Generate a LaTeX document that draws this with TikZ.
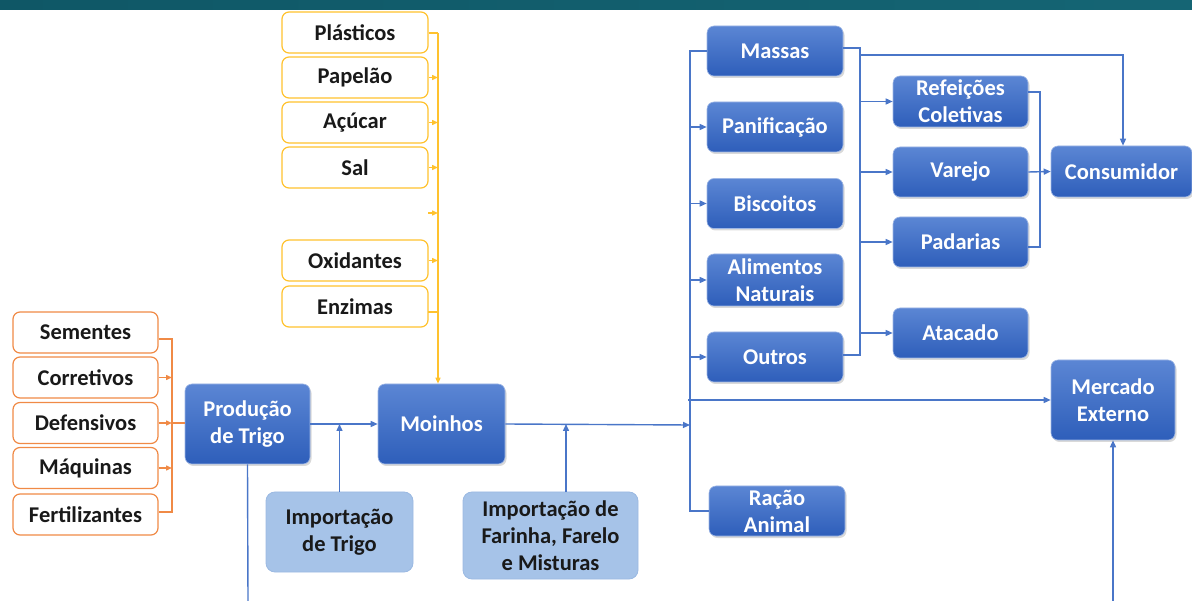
\documentclass[tikz,border=0pt]{standalone}
\usepackage{fontspec}
\setmainfont{Carlito}
\usetikzlibrary{arrows.meta,shadows,calc}
\definecolor{blueT}{HTML}{5B86D4}
\definecolor{blueB}{HTML}{2E5EBA}
\definecolor{lineB}{HTML}{4A76C8}
\definecolor{lightB}{HTML}{A6C3E8}
\definecolor{lightBd}{HTML}{9BB9E2}
\definecolor{orng}{HTML}{F08A46}
\definecolor{yell}{HTML}{FFC22E}
\definecolor{bandA}{HTML}{0F5766}
\definecolor{bandB}{HTML}{156574}
\begin{document}
\begin{tikzpicture}[x=1pt,y=-1pt,
 every node/.style={font=\fontsize{22.5}{27}\selectfont\bfseries, inner sep=0pt, align=center},
 bbox/.style={rounded corners=7pt, top color=blueT, bottom color=blueB, draw=blueT!60!white, line width=0.6pt, text=white, drop shadow={opacity=0.3,shadow xshift=1.5pt,shadow yshift=-2pt}},
 lbox/.style={rounded corners=9pt, fill=lightB, draw=lightBd, line width=0.8pt, text=black!90},
 obox/.style={rounded corners=7pt, fill=white, draw=orng, line width=1.2pt, minimum width=145pt, minimum height=41pt, text=black!90},
 ybox/.style={rounded corners=7pt, fill=white, draw=yell, line width=1.2pt, minimum width=146pt, minimum height=41pt, text=black!90},
 bl/.style={draw=lineB, line width=1.4pt},
 ba/.style={bl, -{Triangle[length=7pt,width=6pt]}},
 ol/.style={draw=orng, line width=1.4pt},
 oa/.style={ol, -{Triangle[length=6pt,width=5pt]}},
 yl/.style={draw=yell, line width=1.4pt},
 ya/.style={yl, -{Triangle[length=6pt,width=5pt]}},
]
\useasboundingbox (0,0) rectangle (1192,601);
\fill[left color=bandA, right color=bandB] (0,0) rectangle (1192,10);

% orange inputs
\node[obox] (sementes) at (85.5,332.5) {Sementes};
\node[obox] (corretivos) at (85.5,377.5) {Corretivos};
\node[obox] (defensivos) at (85.5,423) {Defensivos};
\node[obox] (maquinas) at (85.5,468) {Máquinas};
\node[obox] (fertilizantes) at (85.5,514.5) {Fertilizantes};

% yellow inputs
\node[ybox] (plasticos) at (355,32.5) {Plásticos};
\node[ybox] (papelao) at (355,77.5) {Papelão};
\node[ybox] (acucar) at (355,122.5) {Açúcar};
\node[ybox] (sal) at (355,167.5) {Sal};
\node[ybox] (oxidantes) at (355,260.5) {Oxidantes};
\node[ybox] (enzimas) at (355,306.5) {Enzimas};

% main chain
\node[bbox, minimum width=125pt, minimum height=80pt] (producao) at (247.5,424) {Produção\\de Trigo};
\node[bbox, minimum width=127pt, minimum height=80pt] (moinhos) at (441.5,424) {Moinhos};
\node[lbox, minimum width=147pt, minimum height=80pt] (imptrigo) at (339.5,532) {Importação\\de Trigo};
\node[lbox, minimum width=175pt, minimum height=87pt] (impfarinha) at (550.5,535.5) {Importação de\\Farinha, Farelo\\e Misturas};

% products
\node[bbox, minimum width=136pt, minimum height=50pt] (massas) at (775,51) {Massas};
\node[bbox, minimum width=136pt, minimum height=50pt] (panificacao) at (775,127) {Panificação};
\node[bbox, minimum width=136pt, minimum height=50pt] (biscoitos) at (775,203.5) {Biscoitos};
\node[bbox, minimum width=136pt, minimum height=52pt] (alimentos) at (775,280) {Alimentos\\Naturais};
\node[bbox, minimum width=136pt, minimum height=50pt] (outros) at (775,357) {Outros};
\node[bbox, minimum width=136pt, minimum height=50pt] (racao) at (777,511) {Ração\\Animal};

% channels
\node[bbox, minimum width=135pt, minimum height=51pt] (refeicoes) at (960.5,101.5) {Refeições\\Coletivas};
\node[bbox, minimum width=135pt, minimum height=50pt] (varejo) at (960.5,172) {Varejo};
\node[bbox, minimum width=135pt, minimum height=50pt] (padarias) at (960.5,242) {Padarias};
\node[bbox, minimum width=135pt, minimum height=50pt] (atacado) at (960.5,333) {Atacado};
\node[bbox, minimum width=141pt, minimum height=51pt] (consumidor) at (1121.5,171.5) {Consumidor};
\node[bbox, minimum width=124pt, minimum height=80pt] (mercado) at (1113,400) {Mercado\\Externo};

% orange connectors
\coordinate (obT) at (172,339);
\coordinate (obB) at (172,512);
\draw[ol] (sementes.east |- obT) -- (obT) -- (obB) -- (fertilizantes.east |- obB);
\draw[oa] (corretivos.east) -- (corretivos.east -| obT);
\draw[oa] (defensivos.east) -- (defensivos.east -| obT);
\draw[oa] (maquinas.east) -- (maquinas.east -| obT);
\draw[ol] (defensivos.east -| obT) -- (producao.west |- defensivos.east);

% yellow connectors
\coordinate (yT) at (438,33);
\coordinate (yE) at (428,213);
\draw[yl] (plasticos.east |- yT) -- (yT);
\draw[ya] (yT) -- (yT |- moinhos.north);
\draw[ya] (papelao.east) -- (papelao.east -| yT);
\draw[ya] (acucar.east) -- (acucar.east -| yT);
\draw[ya] (sal.east) -- (sal.east -| yT);
\draw[ya] (yE) -- (yE -| yT);
\draw[ya] (oxidantes.east) -- (oxidantes.east -| yT);
\coordinate (yEn) at (428,312);
\draw[yl] (yEn) -- (yEn -| yT);

% blue main connectors
\coordinate (pBot) at (248,601);
\coordinate (trunk) at (690,425);
\draw[bl] (producao.south) -- (pBot);
\draw[ba] (producao.east) -- (moinhos.west);
\draw[ba] (imptrigo.north) -- (imptrigo.north |- producao.east);
\draw[ba] (moinhos.east) -- (trunk);
\coordinate (farUp) at (566,492);
\draw[ba] (farUp) -- (farUp |- moinhos.east);

% product trunk
\draw[bl] (massas.west) -- (massas.west -| trunk) -- (racao.west -| trunk) -- (racao.west);
\draw[ba] (panificacao.west -| trunk) -- (panificacao.west);
\draw[ba] (biscoitos.west -| trunk) -- (biscoitos.west);
\draw[ba] (alimentos.west -| trunk) -- (alimentos.west);
\draw[ba] (outros.west -| trunk) -- (outros.west);
\coordinate (mL) at (688,400);
\draw[ba] (mL) -- (mercado.west);
\coordinate (mBot) at (1113,601);
\draw[ba] (mBot) -- (mercado.south);

% channel trunk
\coordinate (rbT) at (860,48);
\coordinate (rbB) at (860,355);
\draw[bl] (massas.east |- rbT) -- (rbT) -- (rbB) -- (outros.east |- rbB);
\draw[ba] (refeicoes.west -| rbT) -- (refeicoes.west);
\draw[ba] (varejo.west -| rbT) -- (varejo.west);
\draw[ba] (padarias.west -| rbT) -- (padarias.west);
\draw[ba] (atacado.west -| rbT) -- (atacado.west);
\coordinate (cTop) at (1123,55);
\draw[ba] (cTop -| rbT) -- (cTop) -- (cTop |- consumidor.north);

% consumer bracket
\coordinate (cbT) at (1040,92);
\coordinate (cbB) at (1040,247);
\draw[bl] (refeicoes.east |- cbT) -- (cbT) -- (cbB) -- (padarias.east |- cbB);
\draw[ba] (varejo.east) -- (consumidor.west);
\end{tikzpicture}
\end{document}
